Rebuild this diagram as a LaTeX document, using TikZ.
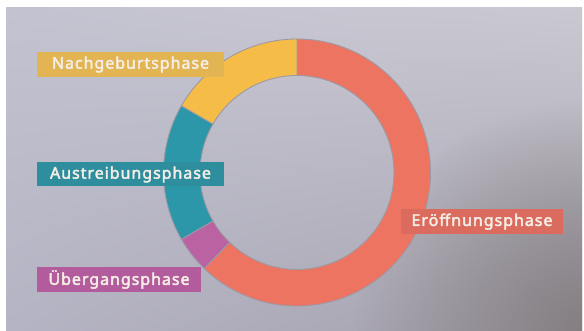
\documentclass[tikz,border=0pt]{standalone}
\usepackage{fontspec}
\newfontfamily\labfont[LetterSpace=6, FakeBold=2.6]{Noto Sans}
\usetikzlibrary{fadings,shadings}
\tikzfading[name=cornerfade, inner color=transparent!0, outer color=transparent!100]
\definecolor{bgUL}{HTML}{C3C2D0}
\definecolor{bgUR}{HTML}{CAC9D2}
\definecolor{bgLL}{HTML}{B5B4C4}
\definecolor{bgLR}{HTML}{A4A1AC}
\definecolor{bgDark}{HTML}{857F82}
\definecolor{cRed}{HTML}{EE7462}
\definecolor{cYel}{HTML}{F6BC48}
\definecolor{cTeal}{HTML}{2C97A9}
\definecolor{cPur}{HTML}{BA62A2}
\definecolor{bRed}{HTML}{DA6B5E}
\definecolor{bYel}{HTML}{E3B452}
\definecolor{bTeal}{HTML}{2E8E9E}
\definecolor{bPur}{HTML}{B25C9D}
\definecolor{sepc}{HTML}{9D99A4}
\definecolor{labtxt}{HTML}{F4EEE6}
\begin{document}
\begin{tikzpicture}[x=1pt,y=1pt,
  seg/.style={draw=sepc, line width=0.9pt, line join=miter},
  lab/.style={inner sep=0pt, minimum height=25pt, text=labtxt,
    font=\labfont\fontsize{16}{16}\selectfont}]
\useasboundingbox (0,0) rectangle (584,331);
\fill[white] (0,0) rectangle (584,331);
\begin{scope}
  \clip (6,0) rectangle (582,323);
  \shade[shading=bilinear interpolation, upper left=bgUL, upper right=bgUR, lower left=bgLL, lower right=bgLR] (6,0) rectangle (582,323);
  \fill[bgDark, path fading=cornerfade] (582,0) circle (230);
\end{scope}
\def\RO{133.5}
\def\RI{97}
\begin{scope}[shift={(297,158.5)}]
  \path[seg, fill=cRed] (90:\RO) arc[start angle=90, end angle=-134, radius=\RO] -- (-134:\RI) arc[start angle=-134, end angle=90, radius=\RI] -- cycle;
  \path[seg, fill=cPur] (226:\RO) arc[start angle=226, end angle=210, radius=\RO] -- (210:\RI) arc[start angle=210, end angle=226, radius=\RI] -- cycle;
  \path[seg, fill=cTeal] (210:\RO) arc[start angle=210, end angle=150, radius=\RO] -- (150:\RI) arc[start angle=150, end angle=210, radius=\RI] -- cycle;
  \path[seg, fill=cYel] (150:\RO) arc[start angle=150, end angle=90, radius=\RO] -- (90:\RI) arc[start angle=90, end angle=150, radius=\RI] -- cycle;
\end{scope}
\node[lab, fill=bYel, minimum width=187pt] (nach) at (130.5,266.5) {Nachgeburtsphase};
\node[lab, fill=bTeal, minimum width=187pt, minimum height=24pt] (aus) at (130.5,156.5) {Austreibungsphase};
\node[lab, fill=bPur, minimum width=164pt] (ueb) at (119,51.5) {Übergangsphase};
\node[lab, fill=bRed, minimum width=162pt] (eroe) at (482,109.3) {Eröffnungsphase};
\end{tikzpicture}
\end{document}
